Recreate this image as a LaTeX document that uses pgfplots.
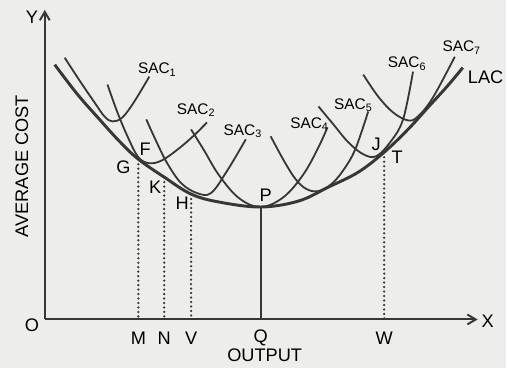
\documentclass[border=0pt]{standalone}
\usepackage{fontspec}
\setmainfont{Liberation Sans}
\usepackage{pgfplots}
\pgfplotsset{compat=1.18}
\usetikzlibrary{arrows.meta}
\definecolor{bg}{RGB}{237,237,235}
\definecolor{ink}{RGB}{55,55,55}
\begin{document}
\begin{tikzpicture}
\begin{axis}[
  scale only axis, width=12.7cm, height=9.25cm,
  xmin=-45, xmax=463, ymin=-49, ymax=321,
  axis line style={draw=none}, xtick=\empty, ytick=\empty,
  axis background/.style={fill=bg},
  clip=false,
  every node/.style={text=ink},
  dropline/.style={ink, line width=1.8pt, line cap=round, dash pattern=on 0pt off 3.2pt},
]
% axes
\draw[ink, line width=1.4pt, -{Straight Barb[length=6pt,width=7pt]}] (axis cs:0,0) -- (axis cs:0,311);
\draw[ink, line width=1.4pt, -{Straight Barb[length=6pt,width=7pt]}] (axis cs:0,0) -- (axis cs:435,0);
% LAC
\addplot[ink, line width=2.1pt, smooth, tension=0.6] coordinates {
(10,256) (33,226) (55,201) (75,179) (94,161) (120,143) (147,126) (175,118) (217,113) (255,119) (285,133) (315,148) (341,168) (365,191) (385,213) (405,235) (420,253)};
% SAC1
\addplot[ink, line width=1.3pt, smooth, tension=0.6] coordinates {
(20,263) (35,240) (50,218) (60,204) (68,199) (78,203) (90,219) (105,244)};
% SAC2
\addplot[ink, line width=1.3pt, smooth, tension=0.6] coordinates {
(63,236) (73,208) (84,182) (94,163) (105,157) (118,160) (135,172) (150,185) (163,198)};
% SAC3
\addplot[ink, line width=1.3pt, smooth, tension=0.6] coordinates {
(102,201) (112,179) (123,157) (137,137) (153,127) (167,127) (183,149) (202,181)};
% SAC4
\addplot[ink, line width=1.3pt, smooth, tension=0.6] coordinates {
(147,191) (160,170) (175,145) (195,122) (217,113) (240,123) (260,146) (275,173) (284,193)};
% SAC5
\addplot[ink, line width=1.3pt, smooth, tension=0.6] coordinates {
(227,184) (240,160) (252,141) (263,131) (275,129) (288,136) (300,150) (312,171) (325,209)};
% SAC6
\addplot[ink, line width=1.3pt, smooth, tension=0.6] coordinates {
(275,214) (290,196) (305,178) (320,166) (333,164) (347,178) (360,201) (370,249)};
% SAC7
\addplot[ink, line width=1.3pt, smooth, tension=0.6] coordinates {
(320,246) (335,224) (350,208) (365,200) (375,204) (390,223) (412,264)};
% dropped lines
\addplot[dropline] coordinates {(94,156) (94,0)};
\addplot[dropline] coordinates {(120,138) (120,0)};
\addplot[dropline] coordinates {(147,121) (147,0)};
\addplot[ink, line width=1.2pt] coordinates {(217,113) (217,0)};
\addplot[dropline] coordinates {(341,163) (341,0)};
% labels
\begin{scope}[font=\fontsize{11}{13}\selectfont]
\node at (axis cs:113,251) {SAC\textsubscript{1}};
\node at (axis cs:152,210) {SAC\textsubscript{2}};
\node at (axis cs:199,189) {SAC\textsubscript{3}};
\node at (axis cs:266,196) {SAC\textsubscript{4}};
\node at (axis cs:310,215) {SAC\textsubscript{5}};
\node at (axis cs:364,257) {SAC\textsubscript{6}};
\node at (axis cs:419,273) {SAC\textsubscript{7}};
\end{scope}
\begin{scope}[font=\fontsize{13}{15}\selectfont]
\node at (axis cs:443,243) {LAC};
\node at (axis cs:79,153) {G};
\node at (axis cs:101,171) {F};
\node at (axis cs:111,133) {K};
\node at (axis cs:138,117) {H};
\node at (axis cs:222,125) {P};
\node at (axis cs:333,176) {J};
\node at (axis cs:354,163) {T};
\node at (axis cs:-13,304) {Y};
\node at (axis cs:-13,-6) {O};
\node at (axis cs:445,-2) {X};
\node at (axis cs:94,-19) {M};
\node at (axis cs:120,-19) {N};
\node at (axis cs:147,-19) {V};
\node at (axis cs:217,-19) {Q};
\node at (axis cs:341,-19) {W};
\node at (axis cs:221,-36) {OUTPUT};
\node[rotate=90] at (axis cs:-23,154) {AVERAGE COST};
\end{scope}
\end{axis}
\end{tikzpicture}
\end{document}
